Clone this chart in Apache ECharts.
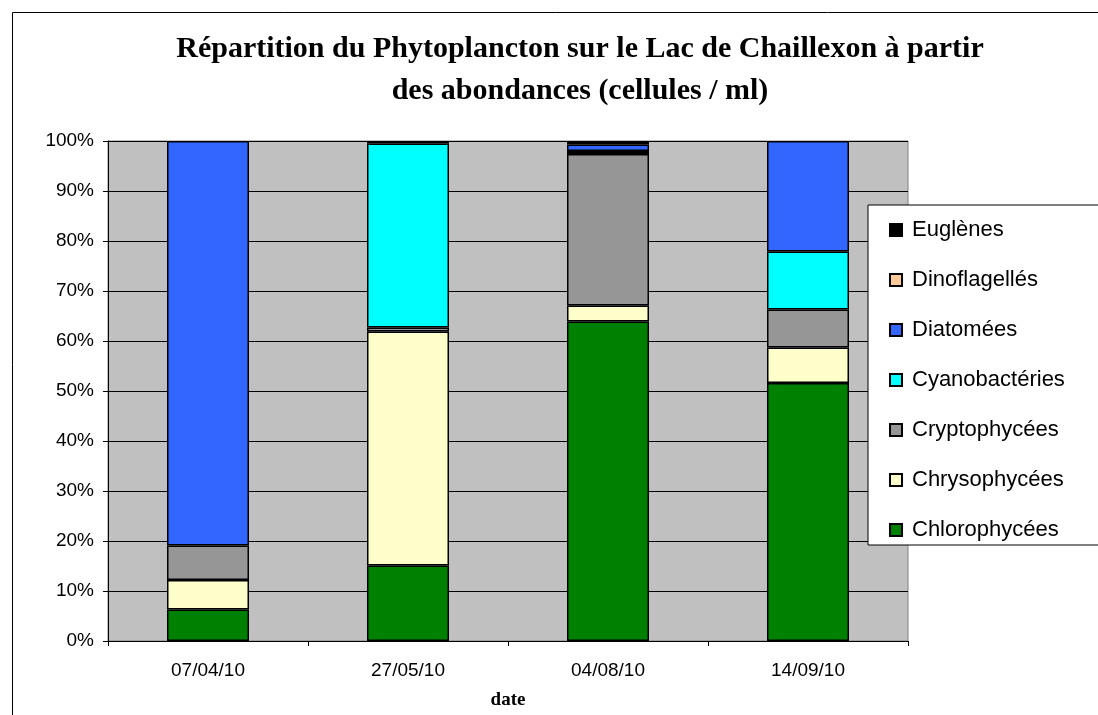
<!DOCTYPE html>
<html>
<head>
<meta charset="utf-8">
<script src="https://cdn.jsdelivr.net/npm/echarts@6/dist/echarts.min.js"></script>
<style>
  html, body { margin: 0; padding: 0; background: #fff; }
  #chart { width: 1098px; height: 715px; }
</style>
</head>
<body>
<div id="chart"></div>
<script>
// dates des prélèvements
var dates = ['07/04/10', '27/05/10', '04/08/10', '14/09/10'];
// pourcentages des abondances par groupe
var chlorophycees  = [6.3, 15.1, 63.9, 51.6];
var chrysophycees  = [5.9, 46.8, 3.2, 7.1];
var cryptophycees  = [6.9, 0.8, 30.3, 7.6];
var cyanobacteries = [0, 36.8, 0.6, 11.6];
var diatomees      = [80.9, 0, 1.3, 22.1];
var dinoflagelles  = [0, 0, 0, 0];
var euglenes       = [0, 0.5, 0.6, 0];

var groupes = [
  { name: 'Chlorophycées', color: '#008000', data: chlorophycees },
  { name: 'Chrysophycées', color: '#FFFFCC', data: chrysophycees },
  { name: 'Cryptophycées', color: '#969696', data: cryptophycees },
  { name: 'Cyanobactéries', color: '#00FFFF', data: cyanobacteries },
  { name: 'Diatomées', color: '#3366FF', data: diatomees },
  { name: 'Dinoflagellés', color: '#FFCC99', data: dinoflagelles },
  { name: 'Euglènes', color: '#000000', data: euglenes }
];

var series = groupes.map(function (g) {
  return {
    name: g.name,
    type: 'bar',
    stack: 'total',
    barWidth: '41%',
    // les valeurs nulles ne sont pas dessinées (pas de trait en trop)
    data: g.data.map(function (v) { return v === 0 ? '-' : v; }),
    itemStyle: { color: g.color, borderColor: '#000', borderWidth: 1.5 }
  };
});

var MyChart = echarts.init(document.getElementById('chart'));
var option = {
  animation: false,
  backgroundColor: '#fff',
  graphic: [{
    type: 'rect',
    shape: { x: 12.5, y: 12.5, width: 1100, height: 720 },
    style: { fill: 'none', stroke: '#000', lineWidth: 1 },
    z: -1
  }],
  title: {
    text: 'Répartition du Phytoplancton sur le Lac de Chaillexon à partir\ndes abondances (cellules / ml)',
    left: 575,
    textAlign: 'center',
    top: 23,
    textStyle: {
      fontFamily: 'Liberation Serif',
      fontWeight: 'bold',
      fontSize: 30,
      lineHeight: 42,
      color: '#000'
    }
  },
  legend: {
    orient: 'vertical',
    left: 868,
    top: 205,
    data: groupes.map(function (g) { return g.name; }).reverse(),
    backgroundColor: '#fff',
    borderColor: '#000',
    borderWidth: 1,
    padding: [14, 60, 4, 21],
    itemWidth: 12,
    itemHeight: 12,
    itemGap: 28,
    icon: 'rect',
    textStyle: { fontFamily: 'Liberation Sans', fontSize: 22, color: '#000', lineHeight: 20, padding: [0, 0, 0, 5] }
  },
  grid: {
    left: 108,
    top: 141,
    width: 800,
    height: 500,
    show: true,
    backgroundColor: '#C0C0C0',
    borderColor: '#808080',
    borderWidth: 1
  },
  xAxis: {
    type: 'category',
    data: dates,
    name: 'date',
    nameLocation: 'middle',
    nameGap: 50,
    nameTextStyle: { fontFamily: 'Liberation Serif', fontWeight: 'bold', fontSize: 19, color: '#000' },
    axisLine: { lineStyle: { color: '#000' } },
    axisTick: { show: true, length: 5, lineStyle: { color: '#000' } },
    axisLabel: { margin: 20, fontFamily: 'Liberation Sans', fontSize: 19, color: '#000' }
  },
  yAxis: {
    type: 'value',
    min: 0,
    max: 100,
    interval: 10,
    axisLine: { show: true, lineStyle: { color: '#000' } },
    axisTick: { show: true, length: 5, lineStyle: { color: '#000' } },
    axisLabel: { margin: 14, formatter: '{value}%', fontFamily: 'Liberation Sans', fontSize: 19, color: '#000' },
    splitLine: { show: true, lineStyle: { color: '#000', width: 1 } }
  },
  series: series
};
MyChart.setOption(option);
</script>
</body>
</html>
